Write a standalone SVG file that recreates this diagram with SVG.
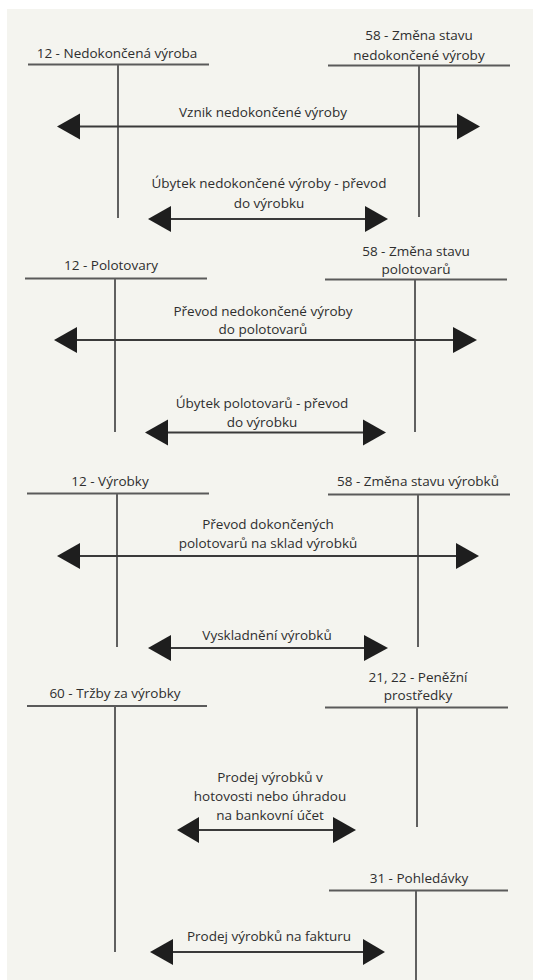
<svg xmlns="http://www.w3.org/2000/svg" width="533" height="980" viewBox="0 0 533 980">
<style>
text{font-family:"Open Sans","Liberation Sans",sans-serif;font-size:13.5px;fill:#2e2e2e;text-anchor:middle}
.bar{stroke:#5a5a5a;stroke-width:2;fill:none}
.stem{stroke:#606060;stroke-width:2;fill:none}
.arr{stroke:#3a3a3a;stroke-width:1.8;fill:none}
.head{fill:#1e1e1e}
</style>
<rect x="0" y="0" width="533" height="980" fill="#ffffff"/>
<rect x="7" y="9" width="526" height="971" fill="#f4f4ef"/>

<g id="n12-nedokoncena">
<text x="117" y="58">12 - Nedokončená výroba</text>
<line class="bar" x1="28" y1="64.5" x2="209" y2="64.5"/>
<line class="stem" x1="118" y1="65" x2="118" y2="218"/>
</g>
<g id="n58-nedokoncena">
<text x="419" y="40">58 - Změna stavu</text>
<text x="419" y="60">nedokončené výroby</text>
<line class="bar" x1="328" y1="65.5" x2="510" y2="65.5"/>
<line class="stem" x1="419" y1="66" x2="419" y2="217"/>
</g>

<g id="n12-polotovary">
<text x="111" y="270">12 - Polotovary</text>
<line class="bar" x1="25" y1="278.5" x2="207" y2="278.5"/>
<line class="stem" x1="115" y1="279" x2="115" y2="432"/>
</g>
<g id="n58-polotovary">
<text x="416" y="256">58 - Změna stavu</text>
<text x="416" y="274">polotovarů</text>
<line class="bar" x1="325" y1="279.5" x2="507" y2="279.5"/>
<line class="stem" x1="415" y1="280" x2="415" y2="432"/>
</g>

<g id="n12-vyrobky">
<text x="110" y="486">12 - Výrobky</text>
<line class="bar" x1="27" y1="493.5" x2="209" y2="493.5"/>
<line class="stem" x1="117" y1="494" x2="117" y2="647"/>
</g>
<g id="n58-vyrobky">
<text x="418" y="486">58 - Změna stavu výrobků</text>
<line class="bar" x1="328" y1="494.5" x2="510" y2="494.5"/>
<line class="stem" x1="418" y1="495" x2="418" y2="647"/>
</g>

<g id="n60-trzby">
<text x="115" y="698">60 - Tržby za výrobky</text>
<line class="bar" x1="27" y1="706" x2="207" y2="706"/>
<line class="stem" x1="115" y1="707" x2="115" y2="952"/>
</g>
<g id="n21-22-penezni">
<text x="418" y="682">21, 22 - Peněžní</text>
<text x="418" y="700">prostředky</text>
<line class="bar" x1="325" y1="707.5" x2="508" y2="707.5"/>
<line class="stem" x1="417" y1="708" x2="417" y2="827"/>
</g>
<g id="n31-pohledavky">
<text x="419" y="883">31 - Pohledávky</text>
<line class="bar" x1="329" y1="890.5" x2="508" y2="890.5"/>
<line class="stem" x1="416" y1="891" x2="416" y2="980"/>
</g>

<g id="connectors">
<g id="c1">
<line class="arr" x1="78" y1="126.5" x2="459" y2="126.5"/>
<polygon class="head" points="57,126.5 80,113.5 80,139.5"/>
<polygon class="head" points="480,126.5 457,113.5 457,139.5"/>
<text x="263" y="117">Vznik nedokončené výroby</text>
</g>
<g id="c2">
<line class="arr" x1="169" y1="219" x2="367" y2="219"/>
<polygon class="head" points="148,219 171,206 171,232"/>
<polygon class="head" points="388,219 365,206 365,232"/>
<text x="269" y="188">Úbytek nedokončené výroby - převod</text>
<text x="269" y="208">do výrobku</text>
</g>
<g id="c3">
<line class="arr" x1="75" y1="340" x2="455" y2="340"/>
<polygon class="head" points="54,340 77,327 77,353"/>
<polygon class="head" points="477,340 453,327 453,353"/>
<text x="263" y="316">Převod nedokončené výroby</text>
<text x="263" y="334">do polotovarů</text>
</g>
<g id="c4">
<line class="arr" x1="166" y1="432.5" x2="365" y2="432.5"/>
<polygon class="head" points="145,432.5 168,419.5 168,445.5"/>
<polygon class="head" points="386,432.5 363,419.5 363,445.5"/>
<text x="262" y="408">Úbytek polotovarů - převod</text>
<text x="262" y="427">do výrobku</text>
</g>
<g id="c5">
<line class="arr" x1="78" y1="556" x2="458" y2="556"/>
<polygon class="head" points="57,556 80,543 80,569"/>
<polygon class="head" points="479,556 456,543 456,569"/>
<text x="268" y="529">Převod dokončených</text>
<text x="268" y="548">polotovarů na sklad výrobků</text>
</g>
<g id="c6">
<line class="arr" x1="169" y1="648" x2="366" y2="648"/>
<polygon class="head" points="148,648 171,635 171,661"/>
<polygon class="head" points="388,648 364,635 364,661"/>
<text x="267" y="640">Vyskladnění výrobků</text>
</g>
<g id="c7">
<line class="arr" x1="197" y1="830" x2="335" y2="830"/>
<polygon class="head" points="177,830 199,817 199,843"/>
<polygon class="head" points="356,830 333,817 333,843"/>
<text x="270" y="782">Prodej výrobků v</text>
<text x="270" y="801">hotovosti nebo úhradou</text>
<text x="270" y="820">na bankovní účet</text>
</g>
<g id="c8">
<line class="arr" x1="171" y1="952" x2="365" y2="952"/>
<polygon class="head" points="150,952 173,939 173,965"/>
<polygon class="head" points="385,952 363,939 363,965"/>
<text x="269" y="941">Prodej výrobků na fakturu</text>
</g>
</g>
</svg>
